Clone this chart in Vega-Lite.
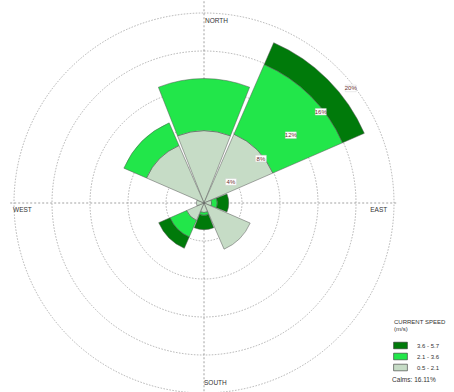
{
  "$schema": "https://vega.github.io/schema/vega-lite/v6.json",
  "width": 408,
  "height": 378,
  "autosize": {"type": "none"},
  "padding": {"left": 0, "top": 14, "right": 46, "bottom": 0},
  "background": "white",
  "config": {"view": {"stroke": null}, "font": "Liberation Sans"},
  "layer": [
    {
      "data": {"values": [{"r": 4}, {"r": 8}, {"r": 12}, {"r": 16}, {"r": 20}]},
      "mark": {"type": "arc", "filled": false, "stroke": "#a0a0a0", "strokeWidth": 0.8, "strokeDash": [1.5, 1.5], "theta": 0, "theta2": 6.2832},
      "encoding": {
        "radius": {"field": "r", "type": "quantitative", "stack": null, "scale": {"type": "linear", "domain": [0, 20], "range": [0, 190], "zero": true, "nice": false}}
      }
    },
    {
      "data": {"values": [{"x": -20.4, "x2": 20.4, "y": 0, "y2": 0}, {"x": 0, "x2": 0, "y": -21.5, "y2": 21.5}]},
      "mark": {"type": "rule", "stroke": "#8a8a8a", "strokeWidth": 0.8, "strokeDash": [2, 2]},
      "encoding": {
        "x": {"field": "x", "type": "quantitative", "scale": {"domain": [-20, 20], "range": [14, 394], "nice": false, "zero": false}, "axis": null},
        "x2": {"field": "x2"},
        "y": {"field": "y", "type": "quantitative", "scale": {"domain": [-20, 20], "range": [379, -1], "nice": false, "zero": false}, "axis": null},
        "y2": {"field": "y2"}
      }
    },
    {
      "data": {"values": [
        {"dir": 0, "cls": "0.5 - 2.1", "lo": 0, "hi": 7.6},
        {"dir": 0, "cls": "2.1 - 3.6", "lo": 7.6, "hi": 13.1},
        {"dir": 45, "cls": "0.5 - 2.1", "lo": 0, "hi": 7.9},
        {"dir": 45, "cls": "2.1 - 3.6", "lo": 7.9, "hi": 15.9},
        {"dir": 45, "cls": "3.6 - 5.7", "lo": 15.9, "hi": 18.4},
        {"dir": 90, "cls": "0.5 - 2.1", "lo": 0, "hi": 0.8},
        {"dir": 90, "cls": "2.1 - 3.6", "lo": 0.8, "hi": 1.4},
        {"dir": 90, "cls": "3.6 - 5.7", "lo": 1.4, "hi": 2.6},
        {"dir": 135, "cls": "0.5 - 2.1", "lo": 0, "hi": 5.3},
        {"dir": 180, "cls": "0.5 - 2.1", "lo": 0, "hi": 1.0},
        {"dir": 180, "cls": "2.1 - 3.6", "lo": 1.0, "hi": 1.3},
        {"dir": 180, "cls": "3.6 - 5.7", "lo": 1.3, "hi": 2.8},
        {"dir": 225, "cls": "0.5 - 2.1", "lo": 0, "hi": 2.0},
        {"dir": 225, "cls": "2.1 - 3.6", "lo": 2.0, "hi": 3.9},
        {"dir": 225, "cls": "3.6 - 5.7", "lo": 3.9, "hi": 5.2},
        {"dir": 270, "cls": "0.5 - 2.1", "lo": 0, "hi": 0.8},
        {"dir": 315, "cls": "0.5 - 2.1", "lo": 0, "hi": 6.6},
        {"dir": 315, "cls": "2.1 - 3.6", "lo": 6.6, "hi": 9.2}
      ]},
      "transform": [
        {"calculate": "datum.dir - 21.5", "as": "a0"},
        {"calculate": "datum.dir + 21.5", "as": "a1"}
      ],
      "mark": {"type": "arc", "stroke": "#555555", "strokeWidth": 0.5},
      "encoding": {
        "theta": {"field": "a0", "type": "quantitative", "stack": null, "scale": {"type": "linear", "domain": [0, 360], "range": [0, 6.283185], "nice": false, "zero": false}},
        "theta2": {"field": "a1"},
        "radius": {"field": "hi", "type": "quantitative", "stack": null, "scale": {"type": "linear", "domain": [0, 20], "range": [0, 190], "zero": true, "nice": false}},
        "radius2": {"field": "lo"},
        "fill": {
          "field": "cls", "type": "nominal",
          "scale": {"domain": ["3.6 - 5.7", "2.1 - 3.6", "0.5 - 2.1"], "range": ["#007a0a", "#22e64a", "#c6dcc6"]},
          "legend": {
            "orient": "none", "legendX": 394, "legendY": 305,
            "title": ["CURRENT SPEED", "(m/s)"],
            "titleFontSize": 6, "titleFontWeight": "normal", "titleLineHeight": 7, "titleColor": "#333333",
            "labelFontSize": 6, "labelColor": "#333333",
            "symbolType": "M-1.15,-0.55H1.15V0.55H-1.15Z", "symbolSize": 144,
            "symbolStrokeColor": "#333333", "symbolStrokeWidth": 0.6, "symbolOpacity": 1,
            "rowPadding": 0, "labelOffset": 10, "titlePadding": 7
          }
        }
      }
    },
    {
      "data": {"values": [{"r": 4, "t": "4%"}, {"r": 8, "t": "8%"}, {"r": 12, "t": "12%"}, {"r": 16, "t": "16%"}, {"r": 20, "t": "20%"}]},
      "transform": [
        {"calculate": "(datum.r - 0.4) * sin(52 * PI / 180)", "as": "lx"},
        {"calculate": "(datum.r - 0.4) * cos(52 * PI / 180)", "as": "ly"}
      ],
      "layer": [
        {
          "mark": {"type": "point", "shape": "M-1,-0.6H1V0.6H-1Z", "size": 121, "filled": true, "fill": "white", "opacity": 1, "stroke": "#cccccc", "strokeWidth": 0.4},
          "encoding": {
            "x": {"field": "lx", "type": "quantitative", "scale": {"domain": [-20, 20], "range": [14, 394], "nice": false, "zero": false}, "axis": null},
            "y": {"field": "ly", "type": "quantitative", "scale": {"domain": [-20, 20], "range": [379, -1], "nice": false, "zero": false}, "axis": null}
          }
        },
        {
          "mark": {"type": "text", "fontSize": 6, "color": "#6a3030", "align": "center", "baseline": "middle"},
          "encoding": {
            "x": {"field": "lx", "type": "quantitative", "axis": null},
            "y": {"field": "ly", "type": "quantitative", "axis": null},
            "text": {"field": "t"}
          }
        }
      ]
    },
    {
      "data": {"values": [
        {"label": "NORTH", "x": 0.1, "y": 19.2},
        {"label": "SOUTH", "x": 0.0, "y": -18.9},
        {"label": "WEST", "x": -20.1, "y": -0.75},
        {"label": "EAST", "x": 17.5, "y": -0.75},
        {"label": "Calms: 16.11%", "x": 19.8, "y": -18.6}
      ]},
      "mark": {"type": "text", "fontSize": 6.5, "color": "#333333", "align": "left", "baseline": "middle"},
      "encoding": {
        "x": {"field": "x", "type": "quantitative", "axis": null},
        "y": {"field": "y", "type": "quantitative", "axis": null},
        "text": {"field": "label"}
      }
    }
  ]
}
